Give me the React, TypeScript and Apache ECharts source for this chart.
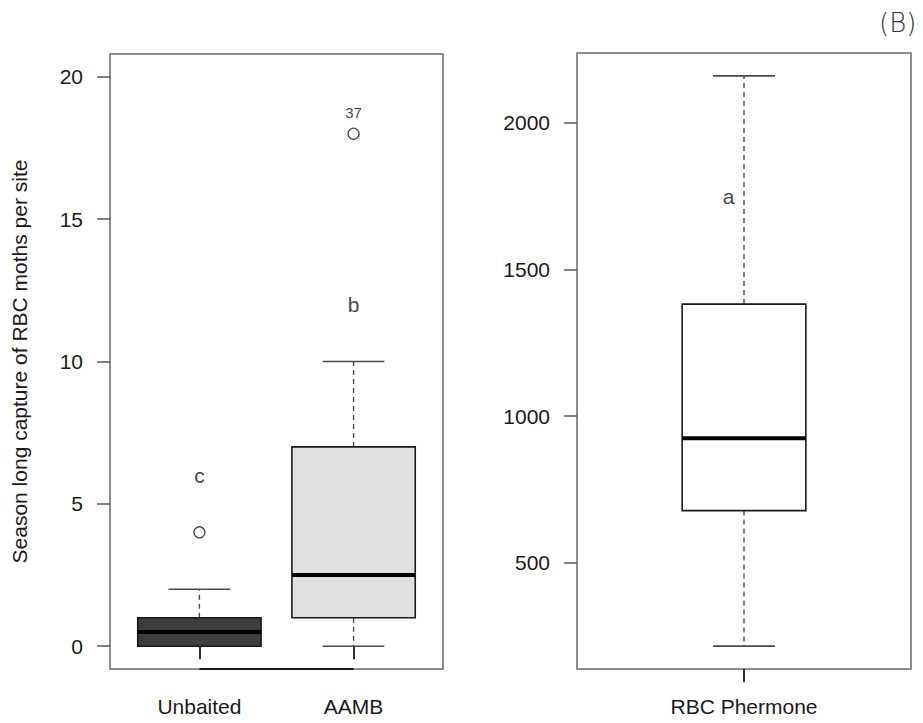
import React, { useEffect, useRef } from "react";
import * as echarts from "echarts";

// ---- Data ----
const leftCategories = ["Unbaited", "AAMB"];
const leftPositions = [1, 2];
// [min, Q1, median, Q3, max]
const leftStats = [
  [0, 0, 0.5, 1, 2],
  [0, 1, 2.5, 7, 10],
];
const leftFills = ["#3d3d3d", "#e0e0e0"];
const leftOutliers = [
  [1, 4],
  [2, 18],
];
const leftOutlierIds = [{ pos: 2, value: 18.75, text: "37" }];
const leftLetters = [
  { pos: 1, value: 6, text: "c" },
  { pos: 2, value: 12, text: "b" },
];
const leftYTicks = [0, 5, 10, 15, 20];

const rightCategories = ["RBC Phermone"];
const rightPositions = [1];
const rightStats = [[216, 678, 925, 1382, 2160]];
const rightFills = ["#ffffff"];
const rightLetters = [{ pos: 0.95, value: 1749, text: "a" }];
const rightYTicks = [500, 1000, 1500, 2000];

const yTitle = "Season long capture of RBC moths per site";
const panelLabel = "(B)";

// axis ranges (R style 4% extension)
const LEFT_Y = [-0.8, 20.8];
const LEFT_X = [0.42, 2.58];
const RIGHT_Y = [138, 2238];
const RIGHT_X = [0.46, 1.54];

const FONT = "'Liberation Sans', Arial, sans-serif";
const FRAME = "#6a6a6a";
const INK = "#1a1a1a";

function boxRender(fills: string[], boxWidth: number) {
  return (params: any, api: any) => {
    const x = api.value(0);
    const mn = api.value(1);
    const q1 = api.value(2);
    const md = api.value(3);
    const q3 = api.value(4);
    const mx = api.value(5);
    const w = api.size([boxWidth, 0])[0];
    const pMin = api.coord([x, mn]);
    const pQ1 = api.coord([x, q1]);
    const pMd = api.coord([x, md]);
    const pQ3 = api.coord([x, q3]);
    const pMax = api.coord([x, mx]);
    const cx = pMd[0];
    const dash = { stroke: "#4a4a4a", lineWidth: 1.4, lineDash: [5, 4] };
    const cap = { stroke: "#4a4a4a", lineWidth: 1.6 };
    return {
      type: "group",
      children: [
        { type: "line", shape: { x1: cx, y1: pQ3[1], x2: cx, y2: pMax[1] }, style: dash },
        { type: "line", shape: { x1: cx, y1: pQ1[1], x2: cx, y2: pMin[1] }, style: dash },
        { type: "line", shape: { x1: cx - w / 4, y1: pMax[1], x2: cx + w / 4, y2: pMax[1] }, style: cap },
        { type: "line", shape: { x1: cx - w / 4, y1: pMin[1], x2: cx + w / 4, y2: pMin[1] }, style: cap },
        {
          type: "rect",
          shape: { x: cx - w / 2, y: pQ3[1], width: w, height: pQ1[1] - pQ3[1] },
          style: { fill: fills[params.dataIndex], stroke: INK, lineWidth: 1.6 },
        },
        {
          type: "line",
          shape: { x1: cx - w / 2, y1: pMd[1], x2: cx + w / 2, y2: pMd[1] },
          style: { stroke: "#000", lineWidth: 4 },
        },
      ],
    };
  };
}

function segmentRender(yMin: number) {
  return (params: any, api: any) => {
    const a = api.coord([api.value(0), yMin]);
    const b = api.coord([api.value(1), yMin]);
    return {
      type: "line",
      shape: { x1: a[0], y1: a[1], x2: b[0], y2: b[1] },
      style: { stroke: INK, lineWidth: 1.8 },
    };
  };
}

export default function App() {
  const ref = useRef<HTMLDivElement>(null);
  useEffect(() => {
    if (!ref.current) return;
    const chart = echarts.init(ref.current, undefined, { renderer: "svg" });

    const yAxisCommon = (ticks: number[], range: number[]) => ({
      type: "value",
      min: range[0],
      max: range[1],
      axisLine: { show: false },
      splitLine: { show: false },
      axisTick: {
        show: true,
        inside: false,
        length: 13,
        customValues: ticks,
        lineStyle: { color: "#555", width: 1.5 },
      },
      axisLabel: {
        customValues: ticks,
        margin: 27,
        fontFamily: FONT,
        fontSize: 21,
        color: INK,
        formatter: (v: number) => String(v),
      },
    });

    const xAxisCommon = (pos: number[], cats: string[], range: number[]) => ({
      type: "value",
      min: range[0],
      max: range[1],
      axisLine: { show: false },
      splitLine: { show: false },
      axisTick: {
        show: true,
        inside: false,
        length: 13,
        customValues: pos,
        lineStyle: { color: INK, width: 1.8 },
      },
      axisLabel: {
        customValues: pos,
        margin: 27,
        fontFamily: FONT,
        fontSize: 21,
        color: INK,
        formatter: (v: number) => {
          const i = pos.indexOf(v);
          return i >= 0 ? cats[i] : "";
        },
      },
    });

    const leftBoxData = leftStats.map((s, i) => [leftPositions[i], ...s]);
    const rightBoxData = rightStats.map((s, i) => [rightPositions[i], ...s]);

    const letterSeries = (items: { pos: number; value: number; text: string }[], idx: number, size: number) => ({
      type: "scatter",
      xAxisIndex: idx,
      yAxisIndex: idx,
      symbolSize: 1,
      itemStyle: { color: "rgba(0,0,0,0)" },
      label: {
        show: true,
        position: "inside",
        formatter: "{b}",
        fontFamily: FONT,
        fontSize: size,
        color: "#111",
        textBorderWidth: 0,
      },
      data: items.map((d) => ({ name: d.text, value: [d.pos, d.value] })),
      z: 5,
    });

    chart.setOption({
      animation: false,
      backgroundColor: "#ffffff",
      title: {
        text: panelLabel,
        left: 874,
        top: 5,
        textStyle: {
          fontFamily: "'DejaVu Sans', sans-serif",
          fontWeight: "lighter",
          fontSize: 26,
          color: "#333",
        },
      },
      grid: [
        { left: 110, top: 54, width: 333, height: 615, show: true, borderColor: FRAME, borderWidth: 1.5, backgroundColor: "transparent" },
        { left: 577, top: 53, width: 334, height: 616, show: true, borderColor: FRAME, borderWidth: 1.5, backgroundColor: "transparent" },
      ],
      xAxis: [
        { gridIndex: 0, ...xAxisCommon(leftPositions, leftCategories, LEFT_X) },
        { gridIndex: 1, ...xAxisCommon(rightPositions, rightCategories, RIGHT_X) },
      ],
      yAxis: [
        {
          gridIndex: 0,
          ...yAxisCommon(leftYTicks, LEFT_Y),
          name: yTitle,
          nameLocation: "middle",
          nameRotate: 90,
          nameGap: 80,
          nameTextStyle: { fontFamily: FONT, fontSize: 21, color: INK },
        },
        { gridIndex: 1, ...yAxisCommon(rightYTicks, RIGHT_Y) },
      ],
      series: [
        {
          type: "custom",
          xAxisIndex: 0,
          yAxisIndex: 0,
          renderItem: segmentRender(LEFT_Y[0]),
          data: [[leftPositions[0], leftPositions[leftPositions.length - 1]]],
          encode: { x: [0, 1], y: [] },
          z: 3,
        },
        {
          type: "custom",
          xAxisIndex: 0,
          yAxisIndex: 0,
          renderItem: boxRender(leftFills, 0.8),
          data: leftBoxData,
          encode: { x: 0, y: [1, 2, 3, 4, 5] },
          z: 2,
        },
        {
          type: "scatter",
          xAxisIndex: 0,
          yAxisIndex: 0,
          symbol: "circle",
          symbolSize: 11,
          itemStyle: { color: "#ffffff", borderColor: INK, borderWidth: 1.3 },
          data: leftOutliers,
          z: 4,
        },
        letterSeries(leftLetters, 0, 21),
        letterSeries(leftOutlierIds, 0, 15),
        {
          type: "custom",
          xAxisIndex: 1,
          yAxisIndex: 1,
          renderItem: boxRender(rightFills, 0.4),
          data: rightBoxData,
          encode: { x: 0, y: [1, 2, 3, 4, 5] },
          z: 2,
        },
        letterSeries(rightLetters, 1, 21),
      ],
    });
    return () => chart.dispose();
  }, []);
  return (
    <div
      ref={ref}
      style={{ position: "fixed", left: 0, top: 0, width: 923, height: 723 }}
    />
  );
}
